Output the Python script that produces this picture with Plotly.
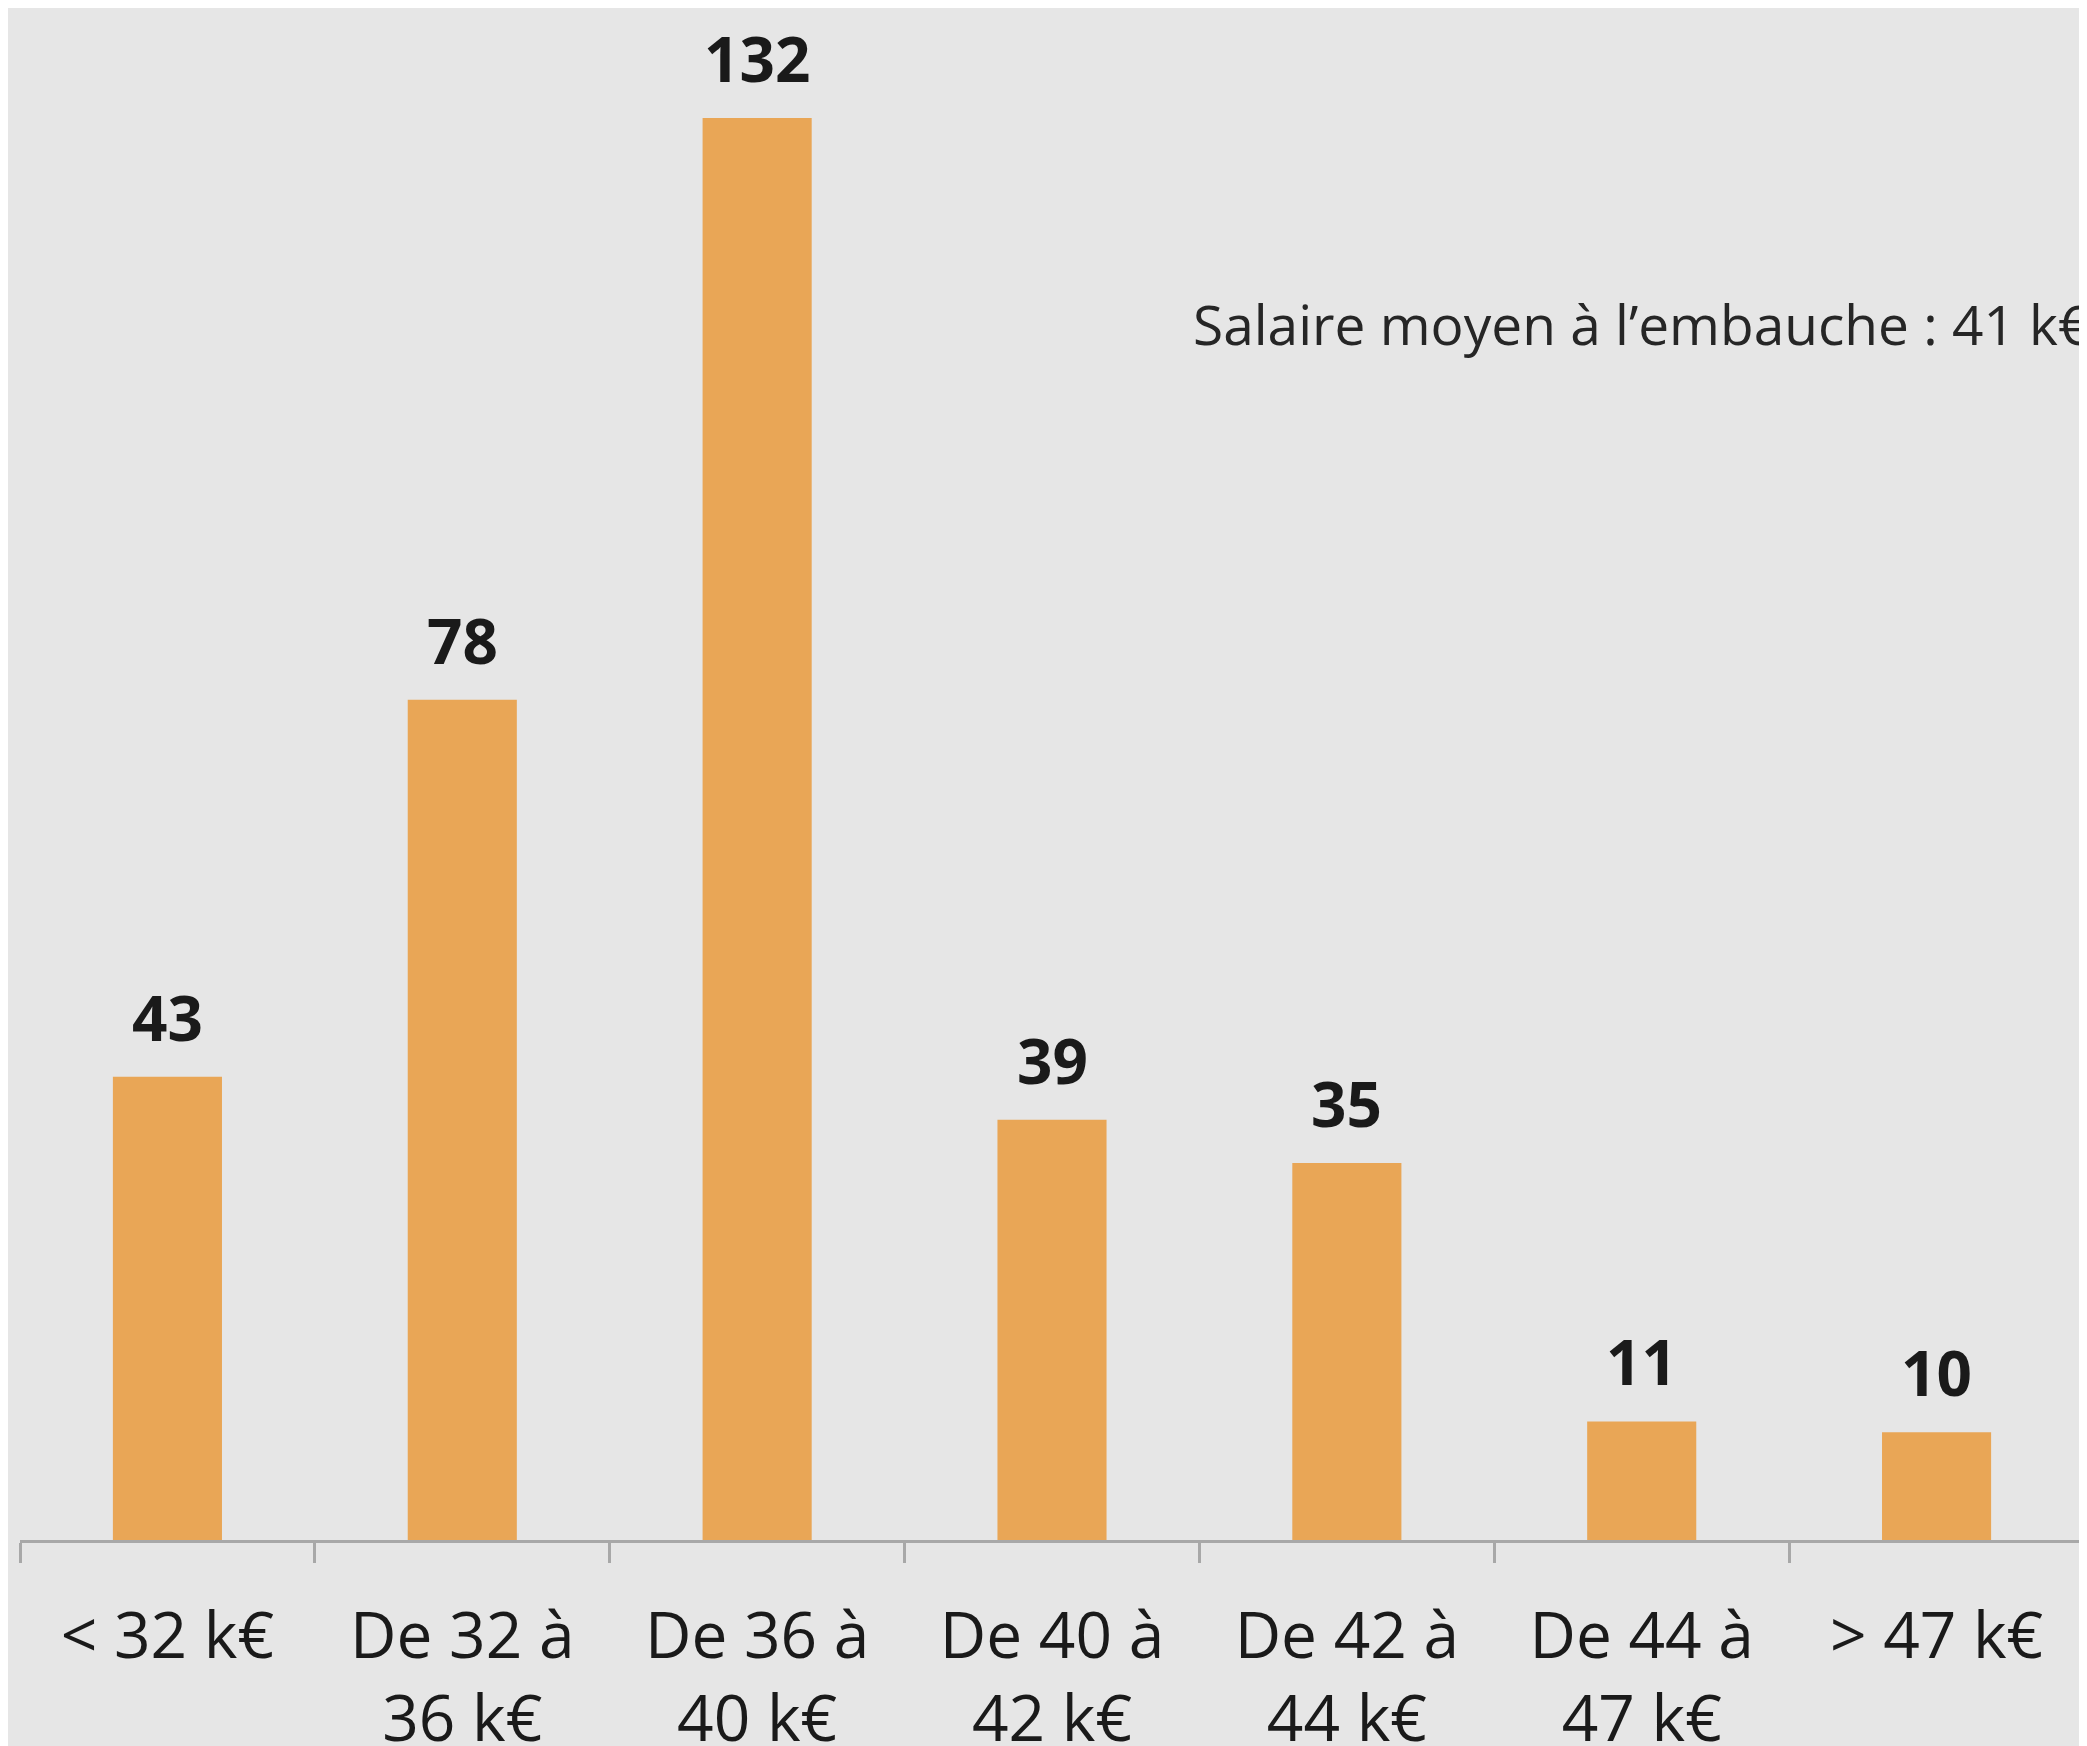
import plotly.graph_objects as go

categories = ["< 32 k€", "De 32 à<br>36 k€", "De 36 à<br>40 k€", "De 40 à<br>42 k€",
              "De 42 à<br>44 k€", "De 44 à<br>47 k€", "> 47 k€"]
values = [43, 78, 132, 39, 35, 11, 10]
note_text = "Salaire moyen à l’embauche : 41 k€"

bar_color = "#E9A656"
bg = "#E6E6E6"

fig = go.Figure()
fig.add_trace(go.Bar(x=categories, y=values, marker=dict(color=bar_color, line=dict(width=0)),
                     width=0.37, hoverinfo="skip"))

for c, v in zip(categories, values):
    fig.add_annotation(x=c, y=v, text="<b>%d</b>" % v, showarrow=False, yanchor="bottom",
                       yshift=16, font=dict(family="Open Sans", size=62, color="#1a1a1a"))

fig.add_annotation(xref="paper", yref="paper", x=(1191 - 20) / 2064, y=(1540 - 323) / 1532,
                   xanchor="left", yanchor="middle", text=note_text, showarrow=False,
                   font=dict(family="Open Sans", size=55, color="#262626"))

fig.update_layout(
    width=2087, height=1746,
    paper_bgcolor=bg, plot_bgcolor=bg,
    margin=dict(l=12, r=11, t=0, b=214),
    showlegend=False,
    font=dict(family="Open Sans", color="#1a1a1a"),
)
fig.update_xaxes(showline=True, linecolor="#A8A8A8", linewidth=3, ticks="outside",
                 tickson="boundaries", ticklen=20, tickcolor="#A8A8A8", tickwidth=3,
                 tickfont=dict(family="Open Sans", size=64, color="#1a1a1a"),
                 ticklabelstandoff=38, automargin=False, showgrid=False, fixedrange=True)
fig.update_yaxes(range=[0, 142.2], visible=False, showgrid=False, zeroline=False,
                 automargin=False)

fig.write_html("out.html")
